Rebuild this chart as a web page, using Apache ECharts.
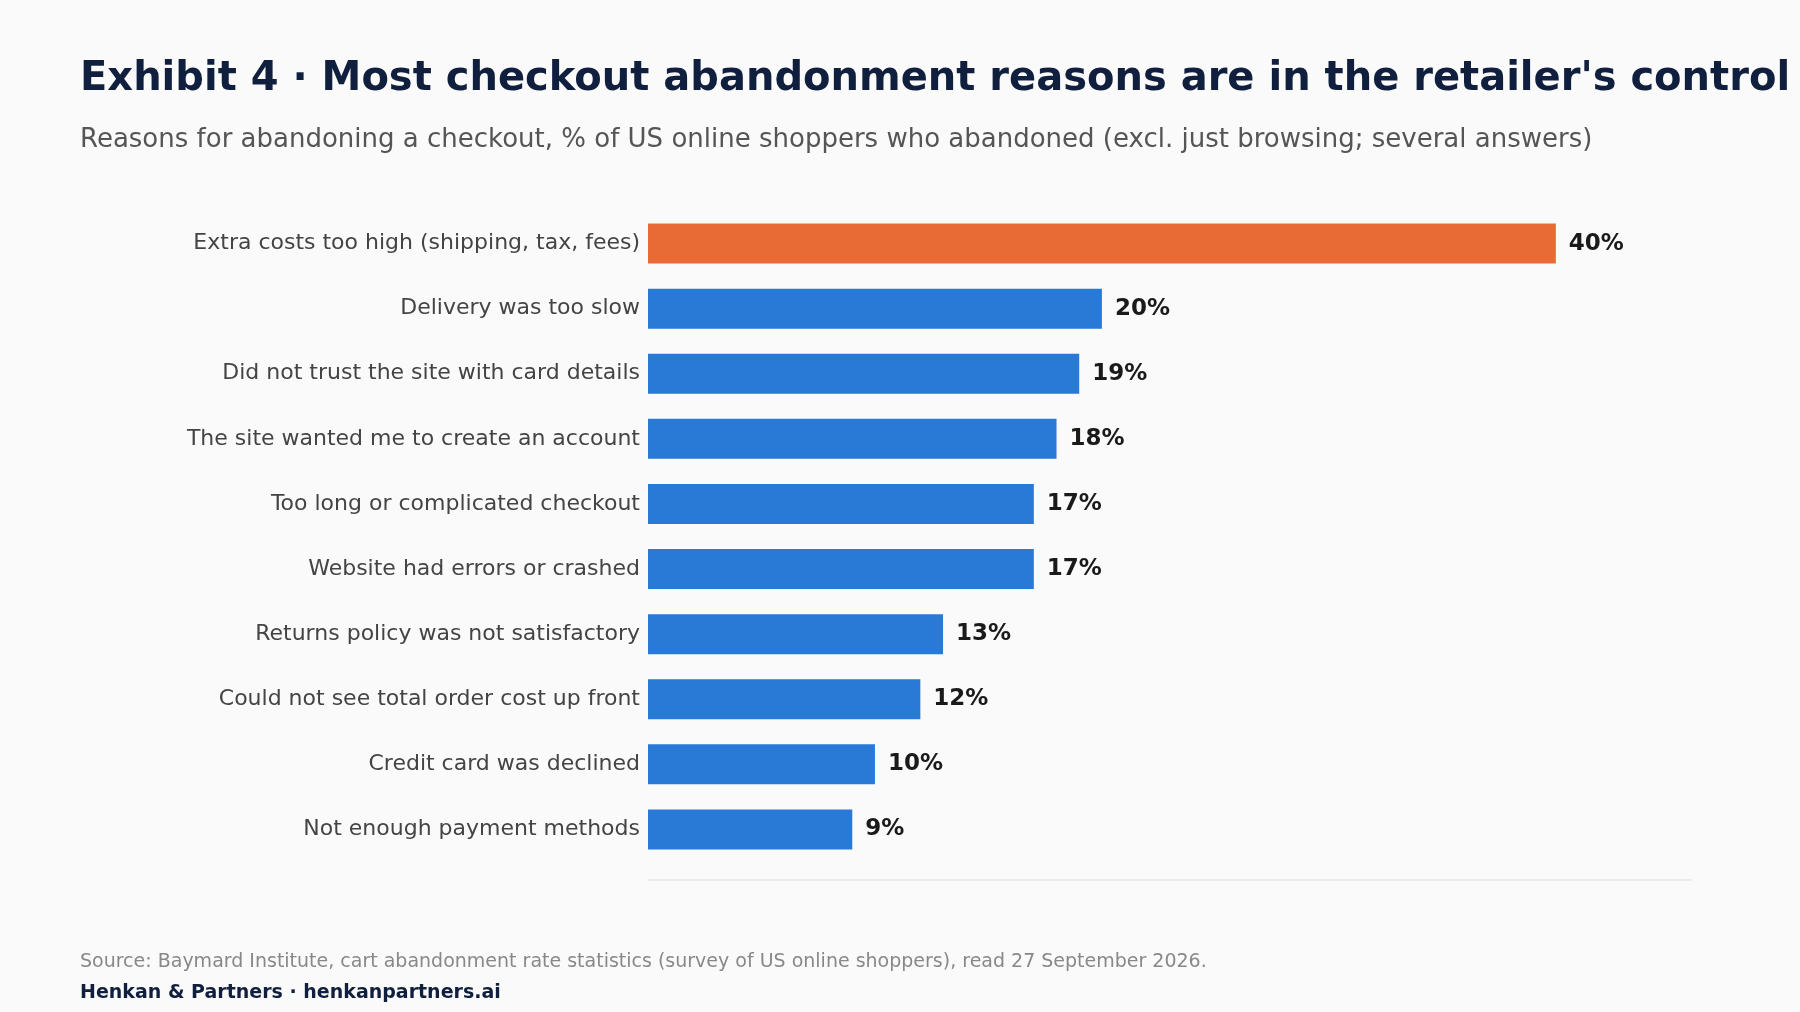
<!DOCTYPE html>
<html>
<head>
<meta charset="utf-8">
<script src="https://cdn.jsdelivr.net/npm/echarts@6/dist/echarts.min.js"></script>
<style>html,body{margin:0;padding:0;background:#fafafa}#chart{width:1800px;height:1012px}</style>
</head>
<body>
<div id="chart"></div>
<script>
var categories = ['Extra costs too high (shipping, tax, fees)', 'Delivery was too slow',
	'Did not trust the site with card details', 'The site wanted me to create an account',
	'Too long or complicated checkout', 'Website had errors or crashed',
	'Returns policy was not satisfactory', 'Could not see total order cost up front',
	'Credit card was declined', 'Not enough payment methods'];
var values = [40, 20, 19, 18, 17, 17, 13, 12, 10, 9];
var highlight = 0;

var myChart = echarts.init(document.getElementById('chart'));
var font = 'DejaVu Sans';
var option = {
	backgroundColor: '#fafafa',
	textStyle: { fontFamily: font },
	title: [{
		text: "Exhibit 4 \u00b7 Most checkout abandonment reasons are in the retailer's control",
		left: 75, top: 55,
		textStyle: { fontSize: 40, fontWeight: 'bold', color: '#0f1f3d', fontFamily: font }
	}, {
		text: 'Reasons for abandoning a checkout, % of US online shoppers who abandoned (excl. just browsing; several answers)',
		left: 75, top: 122,
		textStyle: { fontSize: 26, fontWeight: 'normal', color: '#555', fontFamily: font }
	}, {
		text: 'Source: Baymard Institute, cart abandonment rate statistics (survey of US online shoppers), read 27 September 2026.',
		left: 75, top: 948,
		textStyle: { fontSize: 19, fontWeight: 'normal', color: '#888', fontFamily: font }
	}, {
		text: 'Henkan & Partners \u00b7 henkanpartners.ai',
		left: 75, top: 979,
		textStyle: { fontSize: 19, fontWeight: 'bold', color: '#0f1f3d', fontFamily: font }
	}],
	grid: { left: 648, right: 108, top: 211, height: 651 },
	xAxis: {
		type: 'value', min: 0, max: 46, show: false
	},
	yAxis: {
		type: 'category', inverse: true, data: categories,
		axisLine: { show: false }, axisTick: { show: false },
		axisLabel: { fontSize: 22, color: '#444', margin: 8, fontFamily: font }
	},
	graphic: [{
		type: 'line', shape: { x1: 648, y1: 880, x2: 1692, y2: 880 },
		style: { stroke: '#ddd', lineWidth: 1 }
	}],
	series: [{
		type: 'bar', barWidth: 40,
		data: values.map(function(v, i) {
			return { value: v, itemStyle: { color: i === highlight ? '#e86a35' : '#2979d6' } };
		}),
		label: {
			show: true, position: 'right', distance: 13, formatter: '{c}%',
			fontSize: 23, fontWeight: 'bold', color: '#1a1a1a', fontFamily: font
		}
	}]
};
myChart.setOption(option);
</script>
</body>
</html>
